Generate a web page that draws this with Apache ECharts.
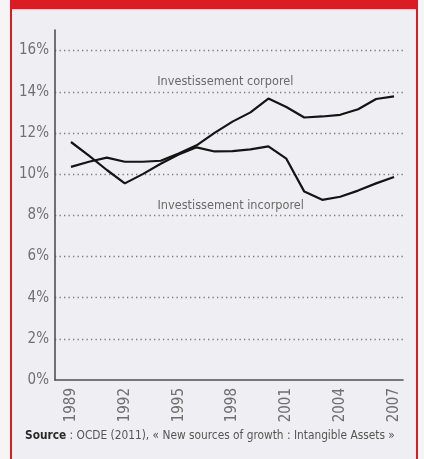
<!DOCTYPE html>
<html>
<head>
<meta charset="utf-8">
<script src="https://cdn.jsdelivr.net/npm/echarts@6/dist/echarts.min.js"></script>
<style>
  html, body { margin: 0; padding: 0; background: #f5f5f5; }
  #chart { width: 424px; height: 459px; }
</style>
</head>
<body>
<div id="chart"></div>
<script>
// Part de l'investissement dans le PIB, 1989-2007
const years = [1989, 1990, 1991, 1992, 1993, 1994, 1995, 1996, 1997, 1998,
               1999, 2000, 2001, 2002, 2003, 2004, 2005, 2006, 2007];
const corporel = [10.35, 10.6, 10.8, 10.6, 10.6, 10.65, 11.0, 11.4, 12.0, 12.55,
                  13.0, 13.67, 13.26, 12.75, 12.8, 12.88, 13.15, 13.65, 13.78];
const incorporel = [11.56, 10.9, 10.2, 9.55, 10.0, 10.5, 10.95, 11.3, 11.1, 11.12,
                    11.2, 11.35, 10.75, 9.15, 8.75, 8.9, 9.2, 9.55, 9.86];
const yearTicks = [1989, 1992, 1995, 1998, 2001, 2004, 2007];
const percentTicks = [0, 2, 4, 6, 8, 10, 12, 14, 16];
const seriesNames = ['Investissement corporel', 'Investissement incorporel'];
const nameAnchors = [[1997.6, 14.48], [1997.9, 8.48]];
const sourceLabel = 'Source';
const sourceText = ' : OCDE (2011), « New sources of growth : Intangible Assets »';

const FONT = '"Liberation Sans Narrow", "DejaVu Sans Condensed", "Roboto Condensed", "Open Sans", sans-serif';
const RED = '#dc1c24';

const chart = echarts.init(document.getElementById('chart'), null, { renderer: 'canvas' });

function nameMark(i) {
  return {
    silent: true,
    symbol: 'circle',
    symbolSize: 0,
    itemStyle: { color: 'transparent' },
    label: {
      show: true,
      position: 'inside',
      formatter: seriesNames[i],
      fontFamily: FONT,
      fontSize: 12.6,
      color: '#6a6a6a'
    },
    data: [{ coord: nameAnchors[i] }]
  };
}

chart.setOption({
  animation: false,
  backgroundColor: '#f5f5f5',
  graphic: [
    { type: 'rect', z: -10, shape: { x: 11, y: 0, width: 406, height: 459 }, style: { fill: '#efeff3' } },
    { type: 'rect', z: -9, shape: { x: 10, y: 0, width: 408, height: 9 }, style: { fill: RED } },
    { type: 'rect', z: -9, shape: { x: 10, y: 0, width: 2, height: 459 }, style: { fill: RED } },
    { type: 'rect', z: -9, shape: { x: 416, y: 0, width: 2, height: 459 }, style: { fill: RED } },
    {
      type: 'text', left: 25, top: 430,
      style: {
        text: '{b|' + sourceLabel + '}{n|' + sourceText + '}',
        rich: {
          b: { fontFamily: FONT, fontSize: 11.8, fontWeight: 'bold', fill: '#2a2a2a' },
          n: { fontFamily: FONT, fontSize: 11.8, fill: '#555' }
        }
      }
    }
  ],
  grid: { left: 55, right: 21, top: 30, bottom: 79, containLabel: false },
  xAxis: {
    type: 'value',
    min: 1988.11,
    max: 2007.5,
    axisLine: { show: true, lineStyle: { color: '#505050', width: 1.6 } },
    axisTick: { show: false },
    splitLine: { show: false },
    axisLabel: {
      customValues: yearTicks,
      rotate: 90,
      margin: 8,
      fontFamily: FONT,
      fontSize: 15,
      color: '#707070',
      formatter: v => String(v),
      showMinLabel: true,
      showMaxLabel: true
    }
  },
  yAxis: {
    type: 'value',
    min: 0,
    max: 17,
    interval: 2,
    axisLine: { show: true, lineStyle: { color: '#505050', width: 1.6 } },
    axisTick: { show: false },
    axisLabel: {
      margin: 6,
      fontFamily: FONT,
      fontSize: 15,
      color: '#707070',
      formatter: v => (percentTicks.indexOf(v) >= 0 ? v + '%' : '')
    },
    splitLine: {
      show: true,
      showMinLine: false,
      showMaxLine: false,
      lineStyle: { color: '#7a7a7a', type: [1.3, 3.2], width: 1.3 }
    }
  },
  series: [
    {
      name: seriesNames[0],
      type: 'line',
      data: years.map((y, i) => [y, corporel[i]]),
      symbol: 'none',
      lineStyle: { color: '#141414', width: 2.2 },
      z: 3,
      markPoint: nameMark(0)
    },
    {
      name: seriesNames[1],
      type: 'line',
      data: years.map((y, i) => [y, incorporel[i]]),
      symbol: 'none',
      lineStyle: { color: '#141414', width: 2.2 },
      z: 3,
      markPoint: nameMark(1)
    }
  ]
});
</script>
</body>
</html>
